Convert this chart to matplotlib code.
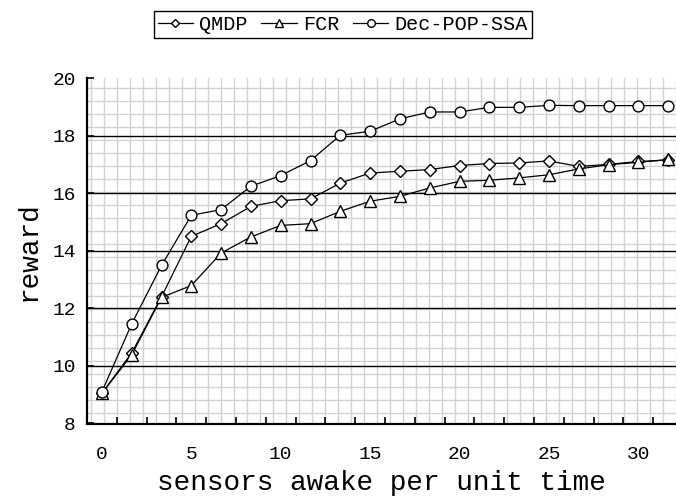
"""Reward vs sensors awake per unit time"""

import numpy as np
import matplotlib.pyplot as plt

plt.rcParams['font.family'] = ['Liberation Mono', 'DejaVu Sans Mono']

# x axis is categorical (one point per category), labelled every 3rd
n_points = 20
tick_positions = [0, 3, 6, 9, 12, 15, 18]
tick_labels = ['0', '5', '10', '15', '20', '25', '30']

qmdp = [9.05, 10.45, 12.4, 14.5, 14.94, 15.54, 15.74, 15.8, 16.35, 16.7,
        16.76, 16.82, 16.96, 17.03, 17.05, 17.12, 16.93, 17.0, 17.1, 17.15]
fcr = [9.05, 10.38, 12.38, 12.79, 13.92, 14.48, 14.88, 14.94, 15.37, 15.72,
       15.89, 16.18, 16.41, 16.45, 16.53, 16.64, 16.84, 16.99, 17.07, 17.17]
dec_pop_ssa = [9.1, 11.46, 13.49, 15.23, 15.43, 16.24, 16.61, 17.13, 18.01, 18.15,
               18.58, 18.82, 18.82, 18.98, 18.98, 19.05, 19.04, 19.04, 19.04, 19.04]

x = np.arange(n_points)

fig = plt.figure(figsize=(6.76, 5.0), dpi=100)
ax = fig.add_axes([87 / 676, 1 - 423.5 / 500, (676 - 87) / 676, (423.5 - 78) / 500])

xmin, xmax = -0.5, -0.5 + (676 - 87) / 29.8
ymin, ymax = 8, 20

# graph-paper background (fixed ~13 px squares)
for gx in np.arange(-0.366, xmax, 13 / 29.8):
    ax.axvline(gx, color='#d2d2d2', lw=1.0, zorder=0)
for gy in np.arange(19.66, ymin, -13 / 28.75):
    ax.axhline(gy, color='#d2d2d2', lw=1.0, zorder=0)
for gy in [10, 12, 14, 16, 18]:
    ax.axhline(gy, color='black', lw=1.0, zorder=1)

style = dict(color='black', lw=0.9, markerfacecolor='white',
             markeredgecolor='black', markeredgewidth=1.0, zorder=3)
ax.plot(x, qmdp, marker='D', markersize=6, label='QMDP', **style)
ax.plot(x, fcr, marker='^', markersize=8.5, label='FCR', **style)
ax.plot(x, dec_pop_ssa, marker='o', markersize=7.8, label='Dec-POP-SSA', **style)

ax.set_xlim(xmin, xmax)
ax.set_ylim(ymin, ymax)

ax.set_xticks(tick_positions)
ax.set_xticklabels(tick_labels)
ax.set_xticks(np.arange(0.5, n_points - 0.5), minor=True)
ax.tick_params(axis='x', which='major', length=0, pad=16, labelsize=14)
ax.tick_params(axis='x', which='minor', direction='in', length=5, width=1.2)
ax.set_yticks(range(8, 21, 2))
ax.tick_params(axis='y', direction='in', length=5, width=1.2, pad=8, labelsize=14)

for side in ['top', 'right']:
    ax.spines[side].set_visible(False)
for side in ['left', 'bottom']:
    ax.spines[side].set_linewidth(1.6)

ax.set_xlabel('sensors awake per unit time', fontsize=20, labelpad=5)
ax.set_ylabel('reward', fontsize=20, labelpad=8)

leg = fig.legend(loc='center', bbox_to_anchor=(0.507, 0.951), ncol=3,
                 fontsize=14.5, handlelength=1.75, handletextpad=0.3,
                 columnspacing=0.7, borderpad=0.2, markerscale=0.7,
                 fancybox=False, framealpha=1, edgecolor='black')
leg.get_frame().set_linewidth(1.0)

plt.savefig('out.png', dpi=100)
